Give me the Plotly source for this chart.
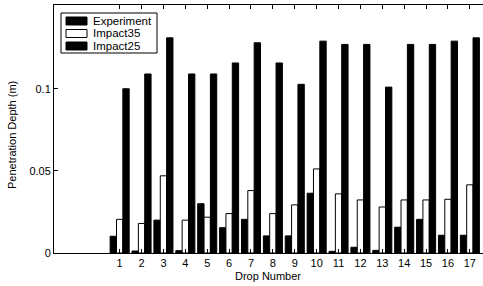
import plotly.graph_objects as go

drops = list(range(1, 18))
tick_labels = [str(d) for d in drops]
experiment = [0.0102, 0.0012, 0.020, 0.0014, 0.030, 0.0154, 0.0205, 0.0104, 0.0104,
              0.0364, 0.001, 0.0035, 0.0016, 0.0157, 0.0205, 0.0108, 0.0108]
impact35 = [0.0205, 0.018, 0.047, 0.020, 0.0218, 0.024, 0.038, 0.024, 0.0293,
            0.0512, 0.036, 0.0323, 0.028, 0.0323, 0.0323, 0.0327, 0.0415]
impact25 = [0.100, 0.109, 0.131, 0.109, 0.109, 0.1157, 0.128, 0.1157, 0.1027,
            0.129, 0.127, 0.127, 0.101, 0.127, 0.127, 0.129, 0.131]
series_names = ["Experiment", "Impact35", "Impact25"]
series_fill = ["black", "white", "black"]

FAM = "Liberation Sans, Arial, sans-serif"
font = dict(family=FAM, size=11, color="black")

L, T, B, W, H = 54, 5, 33, 483, 286
pw, ph = W - L, H - T - B


def px(x):
    return (x - L) / pw


def py(y):
    return (H - B - y) / ph


fig = go.Figure()
for name, vals, fill in zip(series_names, [experiment, impact35, impact25], series_fill):
    fig.add_trace(go.Bar(x=drops, y=vals, name=name, showlegend=False,
                         marker=dict(color=fill, line=dict(color="black", width=1))))

# manual legend box
shapes = [dict(type="rect", xref="paper", yref="paper", x0=px(61), x1=px(157), y0=py(53), y1=py(13),
               line=dict(color="black", width=1), fillcolor="white", layer="above")]
annotations = []
rows = [(17, 25), (29.5, 37.5), (42, 50)]
for (y0, y1), name, fill in zip(rows, series_names, series_fill):
    shapes.append(dict(type="rect", xref="paper", yref="paper", x0=px(66), x1=px(87),
                       y0=py(y1), y1=py(y0), line=dict(color="black", width=1),
                       fillcolor=fill, layer="above"))
    annotations.append(dict(xref="paper", yref="paper", x=px(91), y=py((y0 + y1) / 2),
                            xanchor="left", yanchor="middle", text=name, showarrow=False,
                            font=dict(family=FAM, size=11.5, color="black")))

annotations.append(dict(xref="paper", yref="paper", x=px(268), y=py(276), text="Drop Number",
                        showarrow=False, xanchor="center", yanchor="middle", font=font))
annotations.append(dict(xref="paper", yref="paper", x=px(12), y=py(135), text="Penetration Depth (m)",
                        showarrow=False, textangle=-90, xanchor="center", yanchor="middle", font=font))

fig.update_layout(
    width=W, height=H,
    margin=dict(l=L, r=0, t=T, b=B, autoexpand=False),
    paper_bgcolor="white", plot_bgcolor="white",
    barmode="group", bargap=0.13, bargroupgap=0,
    font=font,
    showlegend=False,
    shapes=shapes,
    annotations=annotations,
    xaxis=dict(range=[-2, 17.6], tickmode="array", tickvals=drops, ticktext=tick_labels,
               ticks="inside", ticklen=4, tickcolor="black", showline=True, linecolor="black",
               linewidth=1, mirror="ticks", showgrid=False, zeroline=False, automargin=False,
               tickfont=font),
    yaxis=dict(range=[0, 0.151], tickmode="array", tickvals=[0, 0.05, 0.1],
               ticktext=["0", "0.05", "0.1"],
               ticks="inside", ticklen=4, tickcolor="black", showline=True, linecolor="black",
               linewidth=1, mirror=False, showgrid=False, zeroline=False, automargin=False,
               tickfont=font),
)

fig.write_html("out.html", config={"displayModeBar": False},
               post_script="document.body.style.margin='0';document.body.style.overflow='hidden';")
